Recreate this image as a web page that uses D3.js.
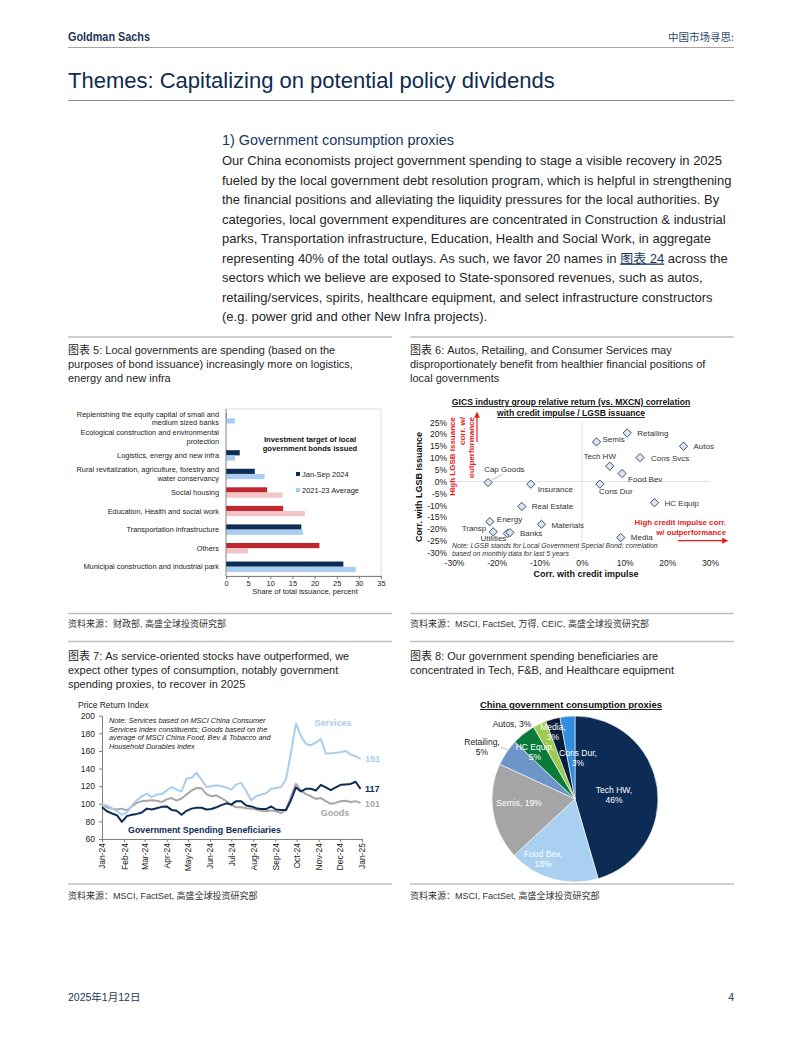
<!DOCTYPE html>
<html>
<head>
<meta charset="utf-8">
<title>中国市场寻思</title>
<script src="https://d3js.org/d3.v7.min.js"></script>
<style>
  html, body { margin: 0; padding: 0; background: #fff; }
  svg { display: block; font-family: "Liberation Sans", Arial, "Noto Sans CJK SC", sans-serif; }
</style>
</head>
<body>
<svg id="page" width="802" height="1037"></svg>
<script>

// ---- 图表 5: local government bond issuance by purpose (percent of total)
var bondCategories = [
  'Replenishing the equity capital of small and\nmedium sized banks',
  'Ecological construction and environmental\nprotection',
  'Logistics, energy and new infra',
  'Rural revitalization, agriculture, forestry and\nwater conservancy',
  'Social housing',
  'Education, Health and social work',
  'Transportation infrastructure',
  'Others',
  'Municipal construction and industrial park'
];
var bondJanSep2024 = [0.1, 0, 3.1, 6.5, 9.3, 12.9, 17.0, 21.1, 26.5];
var bondAvg2123    = [2.0, 0, 2.0, 8.7, 12.8, 17.8, 17.4, 5.0, 29.3];
var bondHighlighted = ['Social housing', 'Education, Health and social work', 'Others'];
var bondSeries = ['Jan-Sep 2024', '2021-23 Average'];
var bondTicks = [0, 5, 10, 15, 20, 25, 30, 35];

// ---- 图表 6: correlation of relative return with credit impulse / LGSB issuance (%)
var groupNames = ['Semis', 'Retailing', 'Autos', 'Tech HW', 'Cons Svcs', 'Food Bev', 'Cons Dur',
  'HC Equip', 'Media', 'Cap Goods', 'Insurance', 'Real Estate', 'Energy', 'Transp', 'Utilities',
  'Banks', 'Materials'];
var corrCredit = [3.4, 10.6, 23.8, 6.5, 13.6, 9.4, 4.2, 17.0, 9.1, -22.0, -12.0, -14.1, -21.6, -20.8, -17.5, -16.9, -9.5];
var corrLgsb   = [16.7, 20.5, 14.9, 6.5, 10.1, 3.4, -1.1, -8.9, -23.6, -0.4, -1.1, -10.5, -16.9, -21.2, -21.9, -21.5, -18.0];
var corrTicksX = [-30, -20, -10, 0, 10, 20, 30];
var corrTicksY = [-30, -25, -20, -15, -10, -5, 0, 5, 10, 15, 20, 25];

// ---- 图表 7: weekly price return index, Jan-24 = 100
var idxTicks = [60, 80, 100, 120, 140, 160, 180, 200];
var servicesIdx = [99, 98, 95, 91.5, 87.5, 90, 98, 104, 108.5, 111.5, 107.5, 110.5, 111, 115, 119, 116,
  114, 128.5, 129.5, 135, 127.5, 119, 120, 121, 120, 118.5, 116, 122, 123.5, 114.5, 104, 108.5, 110.5,
  112, 117, 118, 119, 127.5, 158, 191, 177, 168, 166.5, 169.5, 173.5, 157, 157, 158, 158.5, 160, 156, 154, 151];
var goodsIdx = [99, 96, 94.5, 93.5, 94.5, 92.5, 97, 101, 103, 103.5, 104, 103.5, 102, 105, 106.5, 103.5,
  106, 110.5, 115, 118, 117.5, 111, 108.5, 109.5, 106.5, 103, 99, 96, 96, 95, 94.5, 93.5, 92, 91.5, 92.5,
  91.5, 89.5, 93, 108, 122.5, 115, 111, 108.5, 105.5, 106.5, 103, 100, 101, 103, 103.5, 102, 103, 101];
var govIdx = [96, 91.5, 89, 87, 79.5, 86, 87.5, 88.5, 90, 94.5, 93.5, 95, 96.5, 97, 93, 92, 87.5, 92,
  94.5, 95.5, 95.5, 93.5, 94, 96, 98.5, 100.5, 99, 103, 103, 98, 97, 95, 94, 94, 97, 93.5, 93, 93, 104,
  118.5, 114, 117, 117, 115, 121.5, 118.5, 115.5, 118.5, 121.5, 122, 122.5, 125, 117];

// ---- 图表 8: China government consumption proxies (weight, %)
var proxyNames = ['Tech HW', 'Food Bev', 'Semis', 'Retailing', 'HC Equip', 'Autos', 'Media', 'Cons Dur'];
var proxyWeights = [45.5, 17.6, 18.8, 5.2, 4.6, 2.6, 2.8, 2.9];


var NAVY = '#0d2c56', LIGHT = '#a9cdee', RED = '#c0282f', PINK = '#f3c4c6';
var TXT = '#262626', RULE = '#bfbfbf', ALERT = '#e3201b';

var page = d3.select('#page');

function label(parent, x, y, s, o) {
  o = o || {};
  var t = parent.append('text')
    .attr('x', x).attr('y', y)
    .attr('font-size', o.size || 10)
    .attr('fill', o.fill || TXT)
    .text(s);
  if (o.anchor) t.attr('text-anchor', o.anchor);
  if (o.weight) t.attr('font-weight', o.weight);
  if (o.italic) t.attr('font-style', 'italic');
  if (o.family) t.attr('font-family', o.family);
  if (o.deco) t.attr('text-decoration', o.deco);
  if (o.len) t.attr('textLength', o.len).attr('lengthAdjust', 'spacingAndGlyphs');
  return t;
}

function rule(x1, x2, y, color, w) {
  page.append('line')
    .attr('x1', x1).attr('x2', x2).attr('y1', y).attr('y2', y)
    .attr('stroke', color || RULE).attr('stroke-width', w || 1.5);
}

function block(parent, x, y, lines, lh, o) {
  lines.forEach(function(s, i) { label(parent, x, y + i * lh, s, o); });
}

var defs = page.append('defs');
defs.append('marker').attr('id', 'redHead')
  .attr('viewBox', '0 0 10 10').attr('refX', 8).attr('refY', 5)
  .attr('markerWidth', 5).attr('markerHeight', 5).attr('orient', 'auto')
  .append('path').attr('d', 'M0,0 L10,5 L0,10 z').attr('fill', ALERT);


/* ======================================
 * Page header, title and body text
 */
label(page, 68, 41, 'Goldman Sachs', {size: 13, fill: '#1c3659', weight: 'bold',
  family: '"Liberation Sans Narrow","Liberation Sans",sans-serif', len: 82});
label(page, 734, 41, '中国市场寻思:', {size: 10.5, fill: '#2f4a6d', anchor: 'end',
  family: '"Noto Sans CJK SC",sans-serif'});
rule(68, 734, 47.5, '#a6a6a6', 1.2);

label(page, 68, 88, 'Themes: Capitalizing on potential policy dividends', {size: 22, fill: '#0f2b4f'});
rule(68, 734, 100.5, '#8c8c8c', 1);

label(page, 222, 145, '1) Government consumption proxies', {size: 14.4, fill: '#17375e'});

var bodyLines = [
  'Our China economists project government spending to stage a visible recovery in 2025',
  'fueled by the local government debt resolution program, which is helpful in strengthening',
  'the financial positions and alleviating the liquidity pressures for the local authorities. By',
  'categories, local government expenditures are concentrated in Construction & industrial',
  'parks, Transportation infrastructure, Education, Health and Social Work, in aggregate',
  null,
  'sectors which we believe are exposed to State-sponsored revenues, such as autos,',
  'retailing/services, spirits, healthcare equipment, and select infrastructure constructors',
  '(e.g. power grid and other New Infra projects).'
];
bodyLines.forEach(function(s, i) {
  var y = 165 + i * 19.5;
  if (s) { label(page, 222, y, s, {size: 13}); return; }
  var t = label(page, 222, y, '', {size: 13});
  t.append('tspan').text('representing 40% of the total outlays. As such, we favor 20 names in ');
  t.append('tspan').attr('text-decoration', 'underline').attr('fill', '#17375e').text('图表 24');
  t.append('tspan').text(' across the');
});


/* ======================================
 * Section rules, captions and sources
 */
[[68, 392], [410, 734]].forEach(function(c) {
  rule(c[0], c[1], 337);
  rule(c[0], c[1], 613.5);
  rule(c[0], c[1], 641.5);
  rule(c[0], c[1], 884);
});

block(page, 68, 354, [
  '图表 5: Local governments are spending (based on the',
  'purposes of bond issuance) increasingly more on logistics,',
  'energy and new infra'], 14, {size: 11});
block(page, 410, 354, [
  '图表 6: Autos, Retailing, and Consumer Services may',
  'disproportionately benefit from healthier financial positions of',
  'local governments'], 14, {size: 11});
block(page, 68, 660, [
  '图表 7: As service-oriented stocks have outperformed, we',
  'expect other types of consumption, notably government',
  'spending proxies, to recover in 2025'], 14, {size: 11});
block(page, 410, 660, [
  '图表 8: Our government spending beneficiaries are',
  'concentrated in Tech, F&B, and Healthcare equipment'], 14, {size: 11});

label(page, 68, 627, '资料来源：财政部, 高盛全球投资研究部', {size: 9, fill: '#333'});
label(page, 410, 627, '资料来源：MSCI, FactSet, 万得, CEIC, 高盛全球投资研究部', {size: 9, fill: '#333'});
label(page, 68, 899, '资料来源：MSCI, FactSet, 高盛全球投资研究部', {size: 9, fill: '#333'});
label(page, 410, 899, '资料来源：MSCI, FactSet, 高盛全球投资研究部', {size: 9, fill: '#333'});

label(page, 68, 1001, '2025年1月12日', {size: 10.5, fill: '#1c3659'});
label(page, 734, 1001, '4', {size: 10.5, fill: '#1c3659', anchor: 'end'});


/* ======================================
 * 图表 5: grouped horizontal bars
 */
var c5 = page.append('g');
var x5 = d3.scaleLinear().domain([0, 35]).range([226, 381]);
var y5 = d3.scaleBand().domain(bondCategories).range([409, 576]).paddingInner(0.44).paddingOuter(0.22);
var bw = y5.bandwidth() / 2;

c5.append('rect').attr('x', 226).attr('y', 409).attr('width', 155).attr('height', 167)
  .attr('fill', 'none').attr('stroke', '#d4d4d4').attr('stroke-width', 0.8);

bondCategories.forEach(function(cat, i) {
  var hot = bondHighlighted.indexOf(cat) >= 0;
  c5.append('rect').attr('x', x5(0)).attr('y', y5(cat))
    .attr('width', x5(bondJanSep2024[i]) - x5(0)).attr('height', bw)
    .attr('fill', hot ? RED : NAVY);
  c5.append('rect').attr('x', x5(0)).attr('y', y5(cat) + bw)
    .attr('width', x5(bondAvg2123[i]) - x5(0)).attr('height', bw)
    .attr('fill', hot ? PINK : LIGHT);
  var parts = cat.split('\n');
  var cy = y5(cat) + bw + 2.6 - (parts.length - 1) * 4.2;
  parts.forEach(function(p, j) {
    label(c5, 219, cy + j * 8.4, p, {size: 7.4, fill: '#222', anchor: 'end'});
  });
});

var ax5 = c5.append('g').attr('transform', 'translate(0,576)')
  .call(d3.axisBottom(x5).tickValues(bondTicks).tickSize(3).tickSizeOuter(0));
ax5.attr('font-family', null);
ax5.select('.domain').attr('stroke', '#7f7f7f');
ax5.selectAll('.tick line').attr('stroke', '#7f7f7f');
ax5.selectAll('text').attr('font-size', 7.5).attr('fill', '#222').attr('y', 4.5);
c5.append('line').attr('x1', 226).attr('x2', 226).attr('y1', 409).attr('y2', 576)
  .attr('stroke', '#7f7f7f').attr('stroke-width', 0.8);
label(c5, 305, 594, 'Share of total issuance, percent', {size: 7.5, fill: '#222', anchor: 'middle'});

block(c5, 310, 442, ['Investment target of local', 'government bonds issued'], 9,
  {size: 7.6, weight: 'bold', fill: '#111', anchor: 'middle'});
[[NAVY, 474], [LIGHT, 490]].forEach(function(l, i) {
  c5.append('rect').attr('x', 296).attr('y', l[1] - 2).attr('width', 4).attr('height', 4).attr('fill', l[0]);
  label(c5, 302, l[1] + 2.7, bondSeries[i], {size: 7.5, fill: '#222'});
});


/* ======================================
 * 图表 6: correlation scatter
 */
var c6 = page.append('g');
var x6 = d3.scaleLinear().domain([-30, 30]).range([454, 710]);
var y6 = d3.scaleLinear().domain([-30, 25]).range([552.7, 422.3]);

block(c6, 571, 405, ['GICS industry group relative return (vs. MXCN) correlation',
  'with credit impulse / LGSB issuance'], 11,
  {size: 8.6, weight: 'bold', fill: '#111', anchor: 'middle', deco: 'underline'});

c6.append('line').attr('x1', x6(0)).attr('x2', x6(0)).attr('y1', y6(25)).attr('y2', y6(-30))
  .attr('stroke', '#d9d9d9').attr('stroke-width', 0.8);
c6.append('line').attr('x1', x6(-30)).attr('x2', x6(30)).attr('y1', y6(0)).attr('y2', y6(0))
  .attr('stroke', '#d9d9d9').attr('stroke-width', 0.8);

var pct = function(d) { return d + '%'; };
var ay6 = c6.append('g').attr('transform', 'translate(454,0)')
  .call(d3.axisLeft(y6).tickValues(corrTicksY).tickFormat(pct).tickSize(0).tickPadding(7));
var ax6 = c6.append('g').attr('transform', 'translate(0,552.7)')
  .call(d3.axisBottom(x6).tickValues(corrTicksX).tickFormat(pct).tickSize(0).tickPadding(7));
[ay6, ax6].forEach(function(a) {
  a.attr('font-family', null);
  a.select('.domain').remove();
  a.selectAll('text').attr('font-size', 8.5).attr('fill', '#222');
});

label(c6, 0, 0, 'Corr. with LGSB Issuance', {size: 9, weight: 'bold', fill: '#111', anchor: 'middle'})
  .attr('transform', 'translate(422,487) rotate(-90)');
label(c6, 586, 577, 'Corr. with credit impulse', {size: 9, weight: 'bold', fill: '#111', anchor: 'middle'});

[['High LGSB issuance', 454.7], ['corr. w/', 464.5], ['outperformance', 473.5]].forEach(function(l) {
  label(c6, 0, 0, l[0], {size: 8, weight: 'bold', fill: ALERT, anchor: 'end'})
    .attr('transform', 'translate(' + l[1] + ',417) rotate(-90)');
});
c6.append('line').attr('x1', 477).attr('x2', 477).attr('y1', 442).attr('y2', 413)
  .attr('stroke', ALERT).attr('stroke-width', 1.2).attr('marker-end', 'url(#redHead)');
block(c6, 726, 525, ['High credit impulse corr.', 'w/ outperformance'], 9.5,
  {size: 7.8, weight: 'bold', fill: ALERT, anchor: 'end'});
c6.append('line').attr('x1', 678).attr('x2', 727).attr('y1', 540.7).attr('y2', 540.7)
  .attr('stroke', ALERT).attr('stroke-width', 1.2).attr('marker-end', 'url(#redHead)');

block(c6, 452, 547.5, ['Note: LGSB stands for Local Government Special Bond; correlation',
  'based on monthly data for last 5 years'], 8, {size: 6.9, italic: true, fill: '#333'});

// label placement per industry group: [dx, dy, anchor]
var scatterLabelPos = {
  'Semis': [6, -3, 'start'], 'Retailing': [10, 0, 'start'], 'Autos': [10, 0, 'start'],
  'Tech HW': [-10, -10, 'middle'], 'Cons Svcs': [11, 0, 'start'], 'Food Bev': [6, 6, 'start'],
  'Cons Dur': [-1, 7, 'start'], 'HC Equip': [10, 0, 'start'], 'Media': [10, 0, 'start'],
  'Cap Goods': [-4, -13, 'start'], 'Insurance': [7, 5, 'start'], 'Real Estate': [10, 0, 'start'],
  'Energy': [7, -3, 'start'], 'Transp': [-7, -4, 'end'], 'Utilities': [-1, 4.5, 'end'],
  'Banks': [10, 0.5, 'start'], 'Materials': [10, 1, 'start']
};
var capIdx = groupNames.indexOf('Cap Goods');
c6.append('line')
  .attr('x1', x6(corrCredit[capIdx]) + 3.5).attr('y1', y6(corrLgsb[capIdx]) - 2.5)
  .attr('x2', x6(corrCredit[capIdx]) + 15).attr('y2', y6(corrLgsb[capIdx]) - 8.5)
  .attr('stroke', '#a6a6a6').attr('stroke-width', 0.7);

var diamond = d3.symbol().type(d3.symbolSquare).size(34);
groupNames.forEach(function(name, i) {
  var px = x6(corrCredit[i]), py = y6(corrLgsb[i]);
  c6.append('path').attr('d', diamond())
    .attr('transform', 'translate(' + px + ',' + py + ') rotate(45)')
    .attr('fill', '#dce6f1').attr('stroke', '#1f3350').attr('stroke-width', 0.8);
  var p = scatterLabelPos[name];
  label(c6, px + p[0], py + p[1] + 2.9, name, {size: 8, fill: '#333', anchor: p[2]});
});


/* ======================================
 * 图表 7: price return index lines
 */
var c7 = page.append('g');
var weeks = d3.timeMonday.range(new Date(2024, 0, 1), new Date(2025, 0, 1));
var x7 = d3.scaleTime().domain([new Date(2024, 0, 1), new Date(2025, 0, 1)]).range([102, 362]);
var y7 = d3.scaleLinear().domain([60, 200]).range([839, 715.7]);

label(c7, 78, 708, 'Price Return Index', {size: 8.5, fill: '#222'});

var ay7 = c7.append('g').attr('transform', 'translate(102,0)')
  .call(d3.axisLeft(y7).tickValues(idxTicks).tickSize(3).tickSizeOuter(0).tickPadding(4));
var ax7 = c7.append('g').attr('transform', 'translate(0,839)')
  .call(d3.axisBottom(x7).ticks(d3.timeMonth.every(1)).tickFormat(d3.timeFormat('%b-%y'))
    .tickSize(3).tickSizeOuter(0));
[ay7, ax7].forEach(function(a) {
  a.attr('font-family', null);
  a.select('.domain').attr('stroke', '#7f7f7f');
  a.selectAll('.tick line').attr('stroke', '#7f7f7f');
  a.selectAll('text').attr('font-size', 8.5).attr('fill', '#222');
});
ax7.selectAll('text').attr('transform', 'rotate(-90)').attr('text-anchor', 'end')
  .attr('x', -4).attr('y', 0).attr('dy', '0.35em');

block(c7, 109, 723, ['Note: Services based on MSCI China Consumer',
  'Services index constituents; Goods based on the',
  'average of MSCI China Food, Bev & Tobacco and',
  'Household Durables index'], 8.6, {size: 7.3, italic: true, fill: '#222'});

var line7 = d3.line().x(function(d, i) { return x7(weeks[i]); }).y(function(d) { return y7(d); });
[[goodsIdx, '#a6a6a6'], [servicesIdx, LIGHT], [govIdx, NAVY]].forEach(function(s) {
  c7.append('path').datum(s[0]).attr('d', line7)
    .attr('fill', 'none').attr('stroke', s[1]).attr('stroke-width', 2).attr('stroke-linejoin', 'round');
});

var last = servicesIdx.length - 1;
label(c7, 365, y7(servicesIdx[last]) + 3, servicesIdx[last], {size: 9, weight: 'bold', fill: LIGHT});
label(c7, 365, y7(govIdx[last]) + 3, govIdx[last], {size: 9, weight: 'bold', fill: NAVY});
label(c7, 365, y7(goodsIdx[last]) + 4, goodsIdx[last], {size: 9, weight: 'bold', fill: '#a6a6a6'});
label(c7, 333, 726, 'Services', {size: 9, weight: 'bold', fill: LIGHT, anchor: 'middle'});
label(c7, 335, 816, 'Goods', {size: 9, weight: 'bold', fill: '#a6a6a6', anchor: 'middle'});
label(c7, 128, 833, 'Government Spending Beneficiaries', {size: 8.9, weight: 'bold', fill: NAVY});


/* ======================================
 * 图表 8: pie of proxy weights
 */
var c8 = page.append('g').attr('transform', 'translate(575,799)');
var proxyColors = {
  'Tech HW': '#0c2c56', 'Food Bev': '#a9d0f1', 'Semis': '#a5a5a5', 'Retailing': '#6e95c8',
  'HC Equip': '#0a7a3b', 'Autos': '#9ccb4f', 'Media': '#0a1e3c', 'Cons Dur': '#2f8ee0'
};
// label placement relative to pie centre: [dx, dy, split into two lines, dark text]
var pieLabelPos = {
  'Tech HW': [39, -4, true, false], 'Food Bev': [-32, 60, true, false], 'Semis': [-56, 4, false, false],
  'Retailing': [-93, -52, true, true], 'HC Equip': [-40, -47, true, false], 'Autos': [-63, -75, false, true],
  'Media': [-22, -67, true, false], 'Cons Dur': [3, -41, true, false]
};

label(page, 571, 708, 'China government consumption proxies',
  {size: 9.5, weight: 'bold', fill: '#111', anchor: 'middle', deco: 'underline'});

var slices = d3.pie().sort(null).value(function(d) { return d; })(proxyWeights);
var arc8 = d3.arc().innerRadius(0).outerRadius(83);
c8.selectAll('path.slice').data(slices).enter().append('path')
  .attr('class', 'slice')
  .attr('d', arc8)
  .attr('fill', function(d, i) { return proxyColors[proxyNames[i]]; })
  .attr('stroke', '#fff').attr('stroke-width', 0.6);

c8.append('line').attr('x1', -74).attr('y1', -52).attr('x2', -67).attr('y2', -49)
  .attr('stroke', '#a6a6a6').attr('stroke-width', 0.7);

proxyNames.forEach(function(name, i) {
  var p = pieLabelPos[name];
  var pctText = Math.round(proxyWeights[i]) + '%';
  var o = {size: 8.5, anchor: 'middle', fill: p[3] ? '#222' : '#fff'};
  if (p[2]) block(c8, p[0], p[1] - 2, [name + ',', pctText], 10, o);
  else label(c8, p[0], p[1] + 3, name + ', ' + pctText, o);
});

</script>
</body>
</html>
